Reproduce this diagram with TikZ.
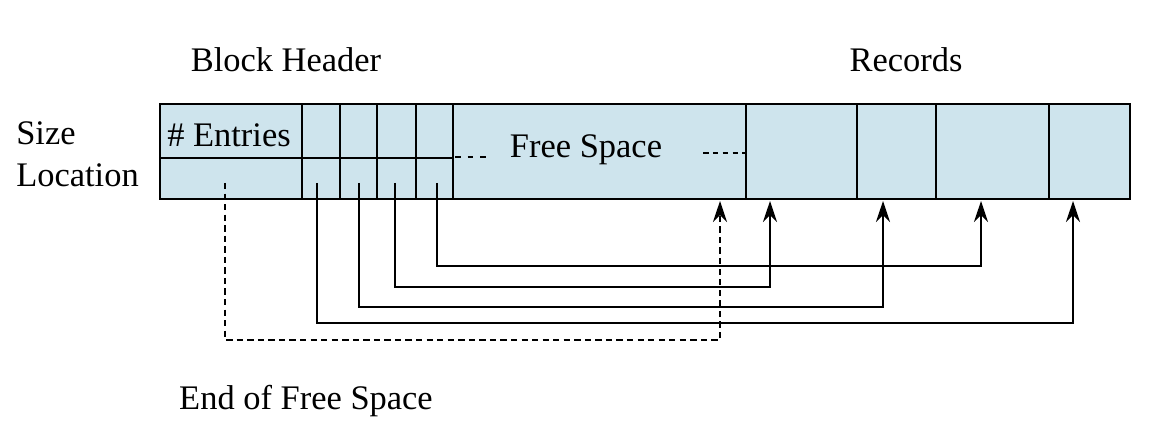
\documentclass[tikz,border=0pt]{standalone}
\usepackage{fontspec}
\setmainfont{Liberation Serif}
\usetikzlibrary{arrows.meta}
\definecolor{blockblue}{RGB}{206,228,237}
\begin{document}
\begin{tikzpicture}[x=0.025cm,y=-0.025cm,
    lbl/.style={font=\fontsize{24.5}{29}\selectfont, inner sep=0pt},
    cell/.style={line width=1pt},
    ptr/.style={line width=1pt, -{Stealth[length=15pt,width=10pt,inset=5pt]}},
    endptr/.style={ptr, dash pattern=on 4.5pt off 3pt}]
    \useasboundingbox (0,0) rectangle (1160,446);
    % the block
    \filldraw[fill=blockblue, line width=1.6pt] (160,104) rectangle (1130,199);
    \draw[cell] (160,158) -- (453,158);
    \foreach \x in {302,340,377,416,453,746,857,936,1049}
        \draw[cell] (\x,104) -- (\x,199);
    \draw[cell, dash pattern=on 4pt off 5pt] (455,157) -- (490,157);
    \draw[cell, dash pattern=on 4pt off 3pt] (703,153) -- (746,153);
    % labels
    \node[lbl, anchor=base] (bh) at (286,72) {Block Header};
    \node[lbl, anchor=base] (rec) at (906,72) {Records};
    \node[lbl, anchor=base west] (sz) at (16,145) {Size};
    \node[lbl, anchor=base west] (loc) at (16,187) {Location};
    \node[lbl, anchor=base west] (ent) at (167,147) {\# Entries};
    \node[lbl, anchor=base] (free) at (586,158) {Free Space};
    \node[lbl, anchor=base] (eofs) at (306,409) {End of Free Space};
    % pointers
    \coordinate (e) at (225,183);
    \coordinate (p1) at (317,183);
    \coordinate (p2) at (359,183);
    \coordinate (p3) at (395,183);
    \coordinate (p4) at (437,183);
    \coordinate (fs) at (720,201);
    \coordinate (r1) at (770,201);
    \coordinate (r2) at (883,201);
    \coordinate (r3) at (981,201);
    \coordinate (r4) at (1073,201);
    \foreach \p/\r/\y in {p4/r3/266,p3/r1/287,p2/r2/307,p1/r4/323}
        \draw[ptr] (\p) -- (\p |- 0,\y) -| (\r);
    \draw[endptr] (e) -- (e |- 0,340) -| (fs);
\end{tikzpicture}
\end{document}
